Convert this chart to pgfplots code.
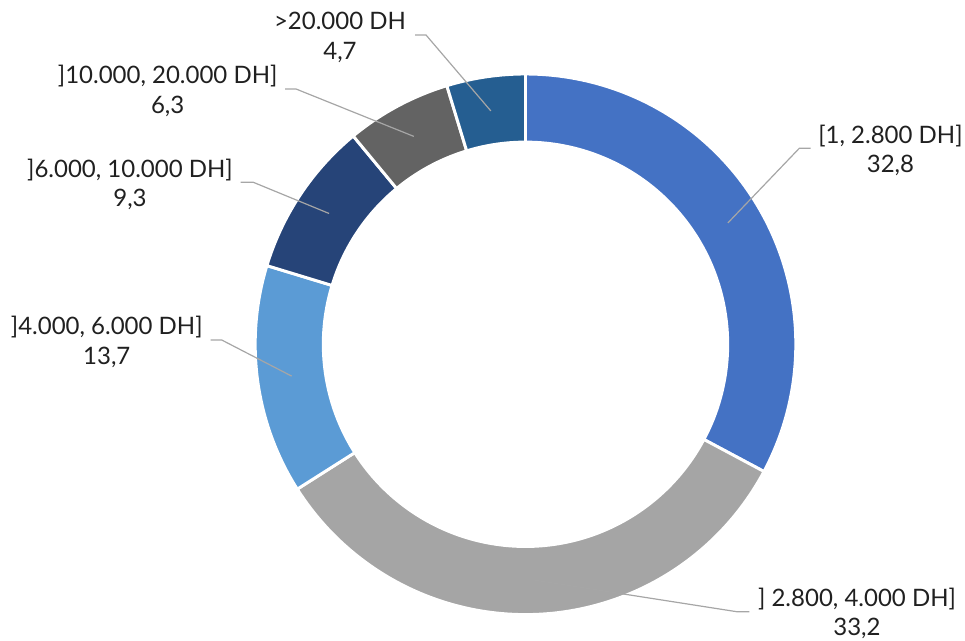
\documentclass[border=0pt]{standalone}
\usepackage{pgfplots}
\pgfplotsset{compat=1.18}
\usepackage{fontspec}
\setmainfont{Lato}

\definecolor{s1}{HTML}{4472C4}
\definecolor{s2}{HTML}{A5A5A5}
\definecolor{s3}{HTML}{5B9BD5}
\definecolor{s4}{HTML}{264478}
\definecolor{s5}{HTML}{636363}
\definecolor{s6}{HTML}{255E91}
\definecolor{txt}{HTML}{202020}
\definecolor{lead}{HTML}{A6A6A6}

% ring geometry in pixel units (y up)
\newcommand{\cx}{525.5}
\newcommand{\cy}{296.7}
\newcommand{\Ro}{270.3}
\newcommand{\Ri}{202.2}

% ring segment: #1 = start (%), #2 = share (%), #3 = colour
\newcommand{\seg}[3]{%
  \addplot[fill=#3, draw=white, line width=2.2pt, domain=0:201, samples=202]
    ({\cx+(\Ri+(\Ro-\Ri)*(x<100.5))*cos(90-3.6*(#1+#2*((x<100.5)*x+(x>100.5)*(201-x))/100))},
     {\cy+(\Ri+(\Ro-\Ri)*(x<100.5))*sin(90-3.6*(#1+#2*((x<100.5)*x+(x>100.5)*(201-x))/100))})
    -- cycle;
}

\newcommand{\lbl}[3]{% x, baseline, text
  \node[anchor=base, text=txt, font=\fontsize{18}{22}\selectfont] at (axis cs:#1,#2) {#3};
}

\begin{document}
\begin{tikzpicture}
\begin{axis}[
  x=0.75pt, y=0.75pt,
  xmin=0, xmax=965, ymin=0, ymax=641,
  hide axis, clip=false,
]
\coordinate (bl) at (axis cs:0,0);
\coordinate (tr) at (axis cs:965,641);

\seg{0}{32.8}{s1}
\seg{32.8}{33.2}{s2}
\seg{66.0}{13.7}{s3}
\seg{79.7}{9.3}{s4}
\seg{89.0}{6.3}{s5}
\seg{95.3}{4.7}{s6}

% leader lines
\draw[lead, line width=0.9pt] (axis cs:727.9,418.1) -- (axis cs:799.3,492.7) -- (axis cs:810.7,492.7);
\draw[lead, line width=0.9pt] (axis cs:534.4,60.9) -- (axis cs:736.7,29.3) -- (axis cs:749.3,29.3);
\draw[lead, line width=0.9pt] (axis cs:291.6,264.9) -- (axis cs:221.7,301) -- (axis cs:210.7,301);
\draw[lead, line width=0.9pt] (axis cs:329.1,427.5) -- (axis cs:253.3,458.7) -- (axis cs:240.7,458.7);
\draw[lead, line width=0.9pt] (axis cs:413.8,504.6) -- (axis cs:296,552) -- (axis cs:285,552);
\draw[lead, line width=0.9pt] (axis cs:490.8,530.1) -- (axis cs:426,606) -- (axis cs:415,606);

% labels
\lbl{890.5}{497.7}{[1, 2.800 DH]}
\lbl{890.5}{468.3}{32,8}
\lbl{857}{34}{] 2.800, 4.000 DH]}
\lbl{857}{5.5}{33,2}
\lbl{106.8}{306}{]4.000, 6.000 DH]}
\lbl{106.8}{276.6}{13,7}
\lbl{130}{463.7}{]6.000, 10.000 DH]}
\lbl{130}{434.3}{9,3}
\lbl{167.7}{557}{]10.000, 20.000 DH]}
\lbl{167.7}{527.6}{6,3}
\lbl{340}{611}{>20.000 DH}
\lbl{340}{581.6}{4,7}
\end{axis}
\pgfresetboundingbox
\path (bl) rectangle (tr);
\end{tikzpicture}
\end{document}
